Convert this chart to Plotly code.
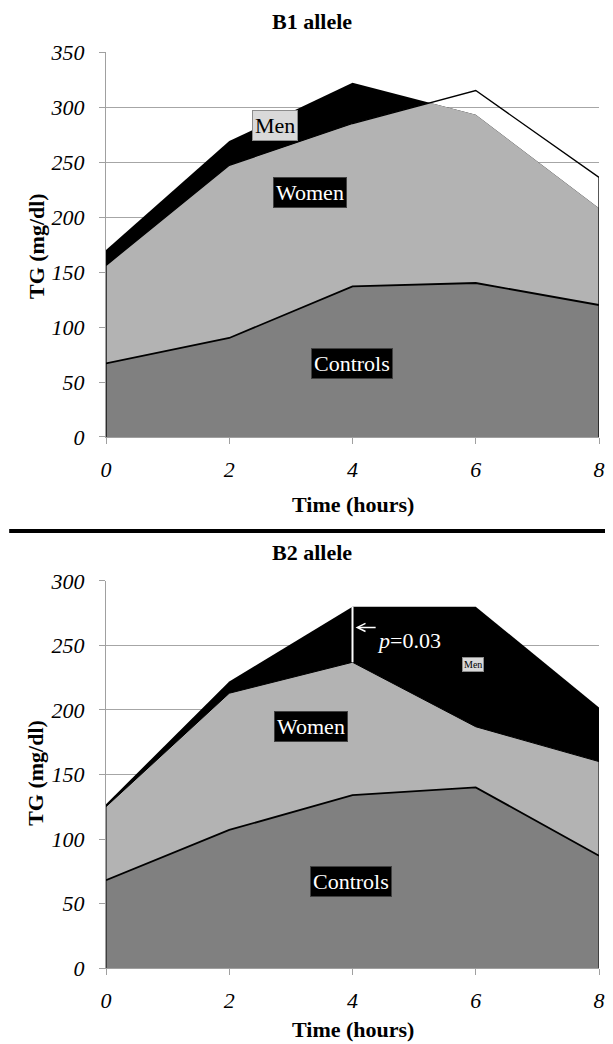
import plotly.graph_objects as go

# ---------------- data ----------------
time_h = [0, 2, 4, 6, 8]
x_ticks = [0, 2, 4, 6, 8]

b1_controls = [67, 90, 137, 140, 120]
b1_women = [156, 247, 285, 315, 236]
b1_men = [170, 269, 322, 293, 208]
b1_yticks = [0, 50, 100, 150, 200, 250, 300, 350]

b2_controls = [68, 107, 134, 140, 87]
b2_women = [125, 213, 237, 187, 160]
b2_men = [127, 222, 280, 280, 202]
b2_yticks = [0, 50, 100, 150, 200, 250, 300]

p_text = "<i>p</i>=0.03"

# ---------------- styling ----------------
FONT = "Liberation Serif, Times New Roman, Times, serif"
C_CTRL = "#808080"
C_WOMEN = "#b3b3b3"
C_MEN = "#000000"
C_AXIS = "#a0a0a0"
C_GRID = "#a6a6a6"


def lower_envelope(xs, a, b):
    """Outline of min(a, b) for two piecewise-linear series (adds crossing vertices)."""
    ox, oy = [xs[0]], [min(a[0], b[0])]
    for i in range(1, len(xs)):
        d0 = a[i - 1] - b[i - 1]
        d1 = a[i] - b[i]
        if d0 * d1 < 0:
            t = d0 / (d0 - d1)
            ox.append(xs[i - 1] + t * (xs[i] - xs[i - 1]))
            oy.append(a[i - 1] + t * (a[i] - a[i - 1]))
        ox.append(xs[i])
        oy.append(min(a[i], b[i]))
    return ox, oy


def outline(xs, ys):
    return [xs[0]] + list(xs) + [xs[-1]], [0] + list(ys) + [0]


fig = go.Figure()

# ---- B1 panel ----
fig.add_trace(go.Scatter(x=time_h, y=b1_men, mode="lines", fill="tozeroy",
                         fillcolor=C_MEN, line=dict(width=0, color=C_MEN),
                         xaxis="x", yaxis="y", hoverinfo="skip"))
ex, ey = lower_envelope(time_h, b1_men, b1_women)
fig.add_trace(go.Scatter(x=ex, y=ey, mode="lines", fill="tozeroy",
                         fillcolor=C_WOMEN, line=dict(width=0, color=C_WOMEN),
                         xaxis="x", yaxis="y", hoverinfo="skip"))
fig.add_trace(go.Scatter(x=time_h, y=b1_controls, mode="lines", fill="tozeroy",
                         fillcolor=C_CTRL, line=dict(width=1.8, color="black"),
                         xaxis="x", yaxis="y", hoverinfo="skip"))
ox, oy = outline(time_h, b1_women)
fig.add_trace(go.Scatter(x=ox, y=oy, mode="lines",
                         line=dict(width=1.3, color="black"),
                         xaxis="x", yaxis="y", hoverinfo="skip"))

# ---- B2 panel ----
fig.add_trace(go.Scatter(x=time_h, y=b2_men, mode="lines", fill="tozeroy",
                         fillcolor=C_MEN, line=dict(width=0, color=C_MEN),
                         xaxis="x2", yaxis="y2", hoverinfo="skip"))
ex2, ey2 = lower_envelope(time_h, b2_men, b2_women)
fig.add_trace(go.Scatter(x=ex2, y=ey2, mode="lines", fill="tozeroy",
                         fillcolor=C_WOMEN, line=dict(width=0, color=C_WOMEN),
                         xaxis="x2", yaxis="y2", hoverinfo="skip"))
fig.add_trace(go.Scatter(x=time_h, y=b2_controls, mode="lines", fill="tozeroy",
                         fillcolor=C_CTRL, line=dict(width=1.8, color="black"),
                         xaxis="x2", yaxis="y2", hoverinfo="skip"))
ox2, oy2 = outline(time_h, b2_women)
fig.add_trace(go.Scatter(x=ox2, y=oy2, mode="lines",
                         line=dict(width=1.0, color="black"),
                         xaxis="x2", yaxis="y2", hoverinfo="skip"))
# white marker line at 4 h between women and men
fig.add_trace(go.Scatter(x=[time_h[2], time_h[2]], y=[b2_women[2], b2_men[2]],
                         mode="lines", line=dict(width=2, color="white"),
                         xaxis="x2", yaxis="y2", hoverinfo="skip"))

tickfont = dict(family=FONT, size=22, color="black", style="italic")
xcommon = dict(range=[0, 8], tickvals=x_ticks, showline=True, linecolor=C_AXIS,
               linewidth=1, ticks="outside", ticklen=6, tickcolor=C_AXIS,
               showgrid=False, zeroline=False, tickfont=tickfont,
               ticklabelstandoff=7)
ycommon = dict(showline=True, linecolor=C_AXIS, linewidth=1, ticks="outside",
               ticklen=6, tickcolor=C_AXIS, showgrid=True, gridcolor=C_GRID,
               gridwidth=1, zeroline=False, tickfont=tickfont,
               ticklabelstandoff=10)

# the page body has an 8px margin, so the figure is 8px smaller and offset
fig.update_layout(
    width=605, height=1036,
    margin=dict(l=98, r=8, t=44, b=76),
    paper_bgcolor="white", plot_bgcolor="white",
    showlegend=False,
    font=dict(family=FONT),
    xaxis=dict(domain=[0, 1], anchor="y", **xcommon),
    yaxis=dict(domain=[0.5797, 1], anchor="x", range=[0, 350],
               tickvals=b1_yticks, **ycommon),
    xaxis2=dict(domain=[0, 1], anchor="y2", **xcommon),
    yaxis2=dict(domain=[0, 0.4225], anchor="x2", range=[0, 300],
                tickvals=b2_yticks, **ycommon),
)

bold = dict(family=FONT, size=22, color="black")
ann = []
# panel titles
ann.append(dict(text="<b>B1 allele</b>", x=0.418, y=1.0328, xref="paper", yref="paper",
                showarrow=False, font=bold, xanchor="center", yanchor="middle"))
ann.append(dict(text="<b>B2 allele</b>", x=0.418, y=0.4541, xref="paper", yref="paper",
                showarrow=False, font=bold, xanchor="center", yanchor="middle"))
# axis titles
for yp in (0.788, 0.2129):
    ann.append(dict(text="<b>TG (mg/dl)</b>", x=-0.1423, y=yp, xref="paper", yref="paper",
                    showarrow=False, font=bold, textangle=-90,
                    xanchor="center", yanchor="middle"))
for yp in (0.5055, -0.0672):
    ann.append(dict(text="<b>Time (hours)</b>", x=0.5, y=yp, xref="paper", yref="paper",
                    showarrow=False, font=bold, xanchor="center", yanchor="middle"))


def label(text, x, y, xr, yr, dark=True, size=22):
    if dark:
        return dict(text=text, x=x, y=y, xref=xr, yref=yr, showarrow=False,
                    font=dict(family=FONT, size=size, color="white"),
                    bgcolor="black", bordercolor="#404040", borderwidth=1, borderpad=2)
    return dict(text=text, x=x, y=y, xref=xr, yref=yr, showarrow=False,
                font=dict(family=FONT, size=size, color="black"),
                bgcolor="#d9d9d9", bordercolor="#8c8c8c", borderwidth=1,
                borderpad=1 if size < 15 else 2)


ann.append(label("Men", 2.74, 283, "x", "y", dark=False))
ann.append(label("Women", 3.31, 222, "x", "y"))
ann.append(label("Controls", 3.99, 67, "x", "y"))
ann.append(label("Women", 3.32, 187, "x2", "y2"))
ann.append(label("Controls", 3.98, 67, "x2", "y2"))
ann.append(label("Men", 5.95, 235, "x2", "y2", dark=False, size=10))

# p-value text and arrow
ann.append(dict(text=p_text, x=4.92, y=254, xref="x2", yref="y2", showarrow=False,
                font=dict(family=FONT, size=22, color="white")))
ann.append(dict(text="", x=4.05, y=264, xref="x2", yref="y2",
                ax=4.40, ay=264, axref="x2", ayref="y2",
                showarrow=True, arrowhead=5, arrowsize=1, arrowwidth=1.6,
                arrowcolor="white"))

fig.update_layout(annotations=ann)

# thick separator between panels
fig.add_shape(type="line", xref="paper", yref="paper", x0=-0.1964, x1=1.02,
              y0=0.4771, y1=0.4771, line=dict(color="black", width=4))

fig.write_html("out.html")
